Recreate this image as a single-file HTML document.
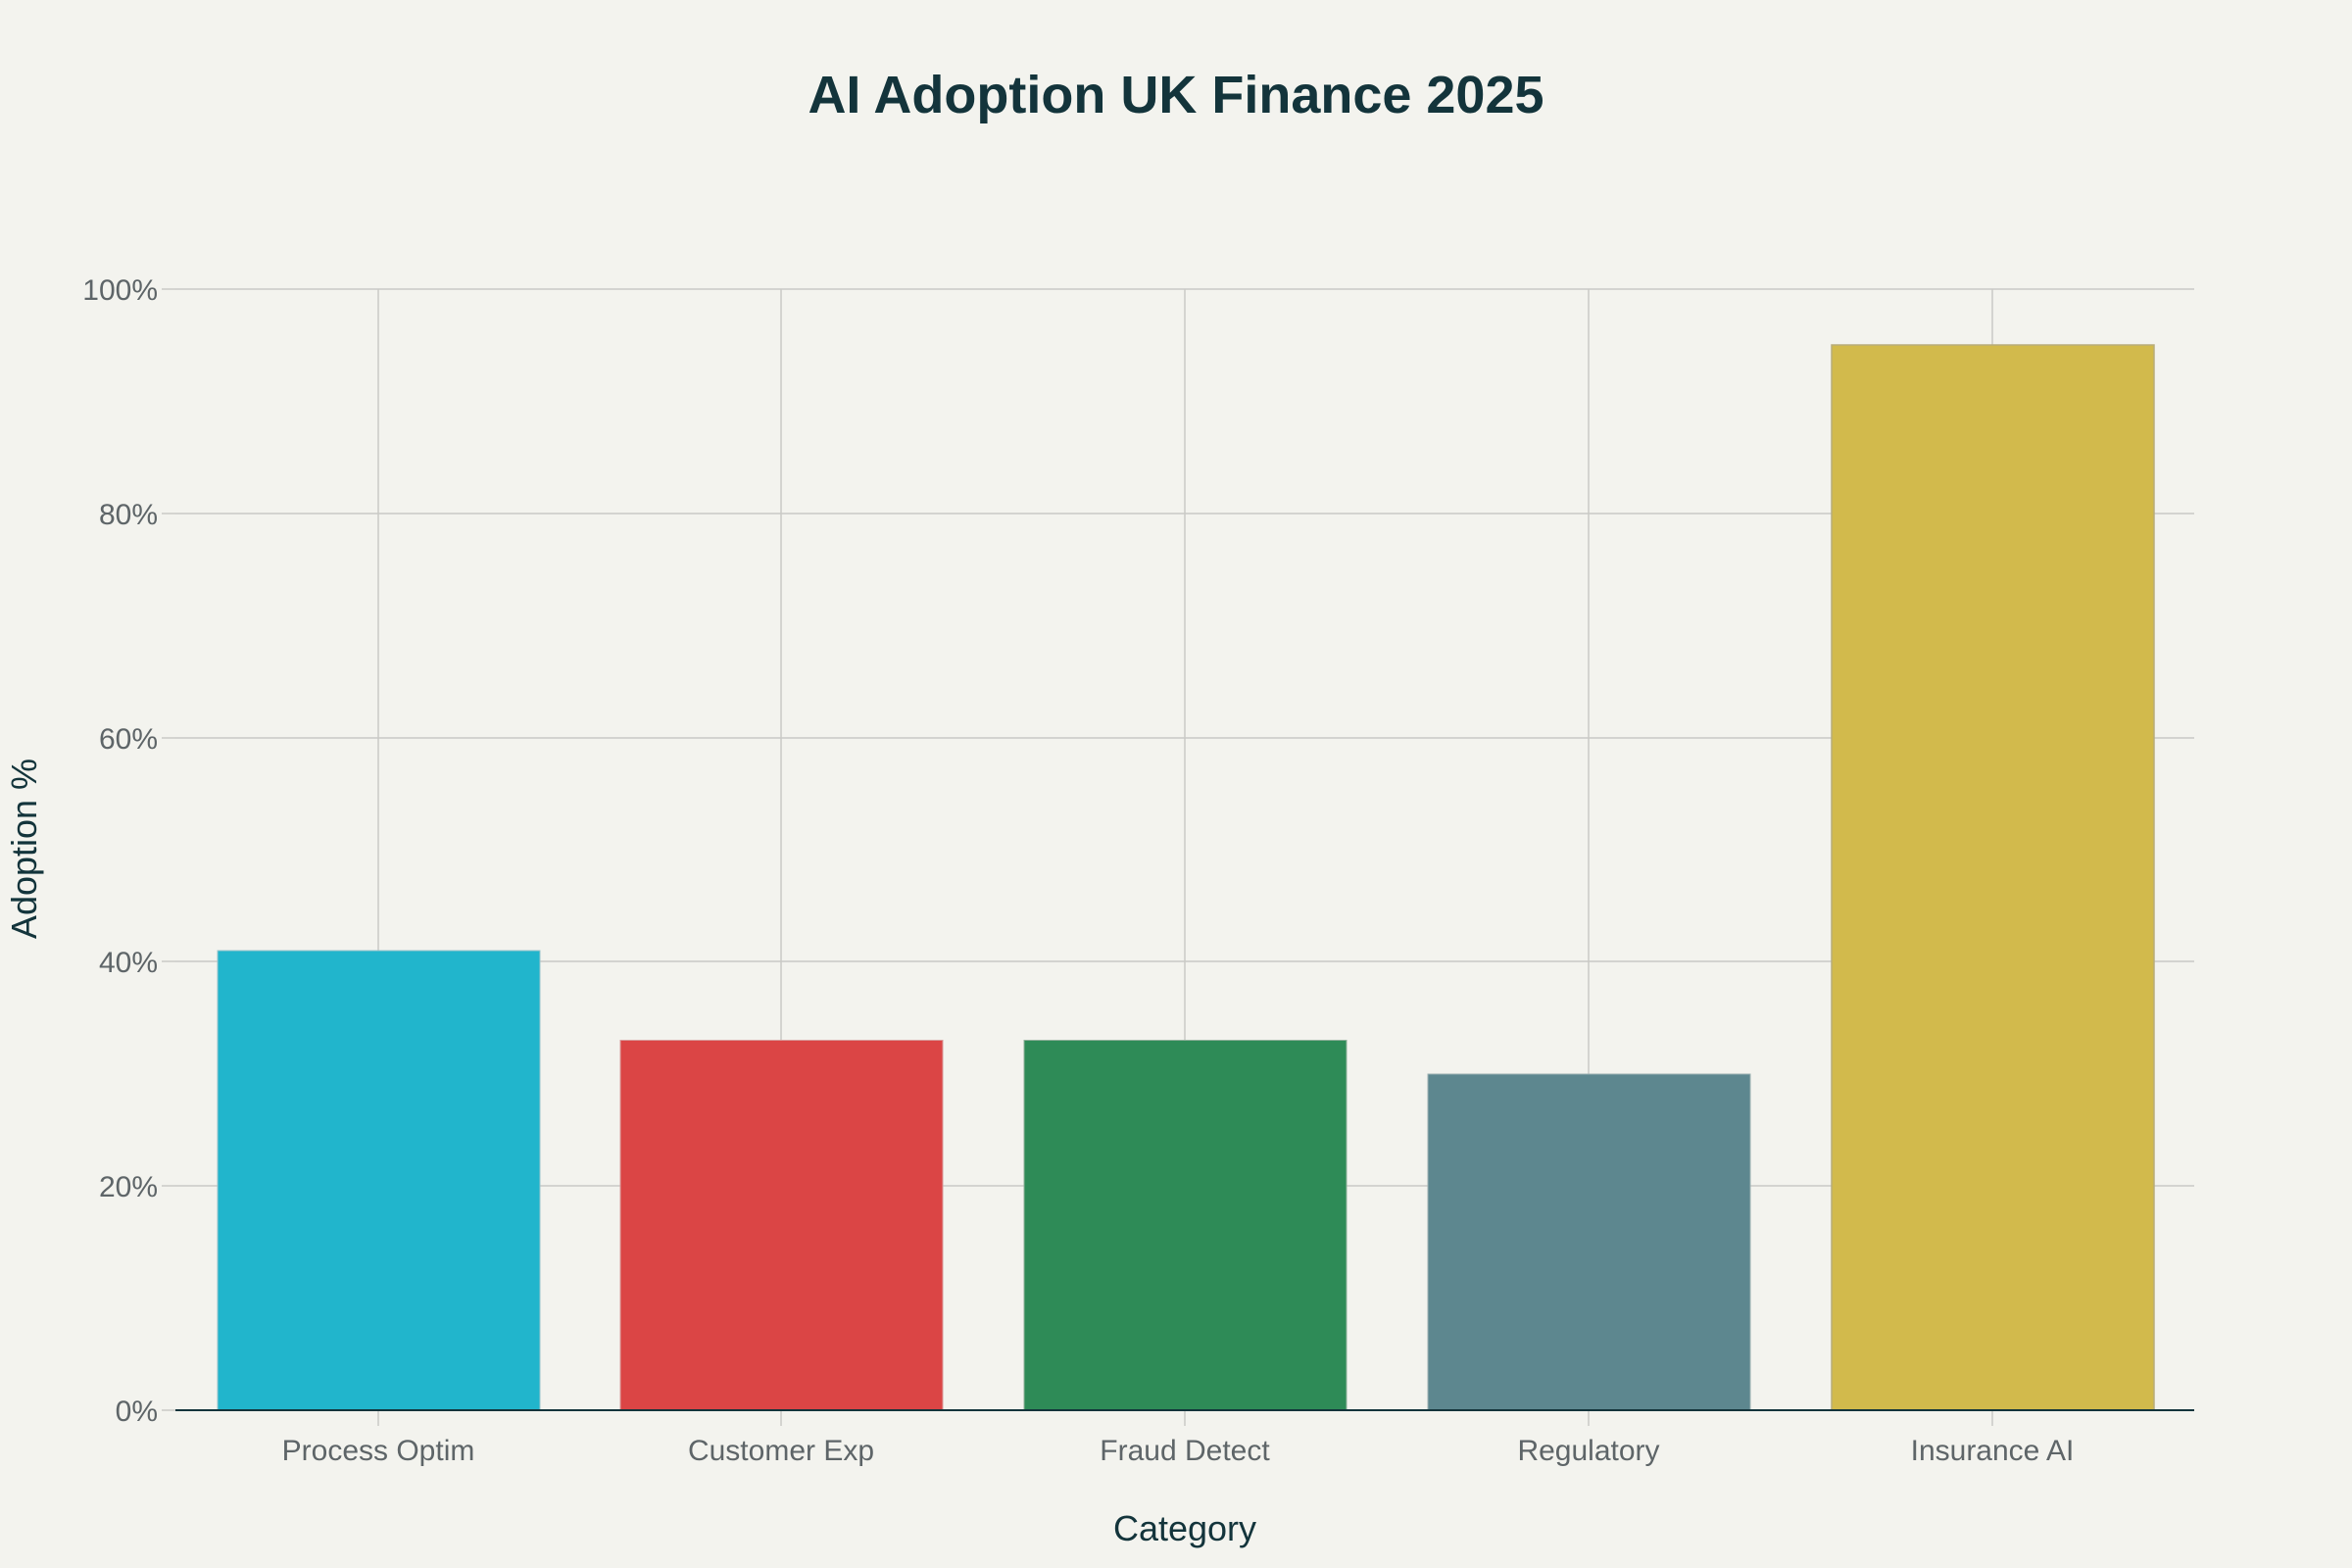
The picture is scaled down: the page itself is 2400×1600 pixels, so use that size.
<!DOCTYPE html>
<html><head><meta charset="utf-8"><style>
html,body{margin:0;padding:0;background:#F3F3EE;}
svg{display:block;font-family:"Liberation Sans",sans-serif;}
</style></head><body>
<svg width="2400" height="1600" viewBox="0 0 2400 1600" xmlns="http://www.w3.org/2000/svg">
<rect width="2400" height="1600" fill="#F3F3EE"/>
<text x="1200" y="115" text-anchor="middle" font-size="54" font-weight="bold" fill="#13343B">AI Adoption UK Finance 2025</text>
<g stroke="#D3D3D0" stroke-width="2">
<line x1="179" y1="1210" x2="2239" y2="1210"/>
<line x1="179" y1="981" x2="2239" y2="981"/>
<line x1="179" y1="753" x2="2239" y2="753"/>
<line x1="179" y1="524" x2="2239" y2="524"/>
<line x1="179" y1="295" x2="2239" y2="295"/>
</g>
<g stroke="#CACAC6" stroke-width="1.5">
<line x1="386" y1="295" x2="386" y2="1455"/>
<line x1="797" y1="295" x2="797" y2="1455"/>
<line x1="1209" y1="295" x2="1209" y2="1455"/>
<line x1="1621" y1="295" x2="1621" y2="1455"/>
<line x1="2033" y1="295" x2="2033" y2="1455"/>
</g>
<g stroke="#CACAC6" stroke-width="1.5">
<line x1="165" y1="295" x2="179" y2="295"/>
<line x1="165" y1="524" x2="179" y2="524"/>
<line x1="165" y1="753" x2="179" y2="753"/>
<line x1="165" y1="981" x2="179" y2="981"/>
<line x1="165" y1="1210" x2="179" y2="1210"/>
<line x1="165" y1="1439" x2="179" y2="1439"/>
</g>
<rect x="222" y="970" width="329" height="469" fill="#21B5CC" stroke="#9EC5CC" stroke-width="1"/>
<rect x="633" y="1061.5" width="329" height="377.5" fill="#DB4545" stroke="#D89A9A" stroke-width="1"/>
<rect x="1045" y="1061.5" width="329" height="377.5" fill="#2E8B57" stroke="#8FB09A" stroke-width="1"/>
<rect x="1457" y="1096" width="329" height="343" fill="#5D878F" stroke="#9DB0B3" stroke-width="1"/>
<rect x="1869" y="352" width="329" height="1087" fill="#D2BA4C" stroke="#B8AC7A" stroke-width="1.5"/>
<line x1="179" y1="1439" x2="2239" y2="1439" stroke="#13343B" stroke-width="2"/>
<g font-size="30" fill="#5E6568" text-anchor="end">
<text x="161" y="306">100%</text>
<text x="161" y="535">80%</text>
<text x="161" y="764">60%</text>
<text x="161" y="992">40%</text>
<text x="161" y="1221">20%</text>
<text x="161" y="1450">0%</text>
</g>
<g font-size="30" fill="#5E6568" text-anchor="middle">
<text x="386" y="1490">Process Optim</text>
<text x="797" y="1490">Customer Exp</text>
<text x="1209" y="1490">Fraud Detect</text>
<text x="1621" y="1490">Regulatory</text>
<text x="2033" y="1490">Insurance AI</text>
</g>
<text x="1209" y="1572" text-anchor="middle" font-size="36" fill="#13343B">Category</text>
<text transform="translate(37,866) rotate(-90)" text-anchor="middle" font-size="36" fill="#13343B">Adoption %</text>
</svg>
</body></html>
